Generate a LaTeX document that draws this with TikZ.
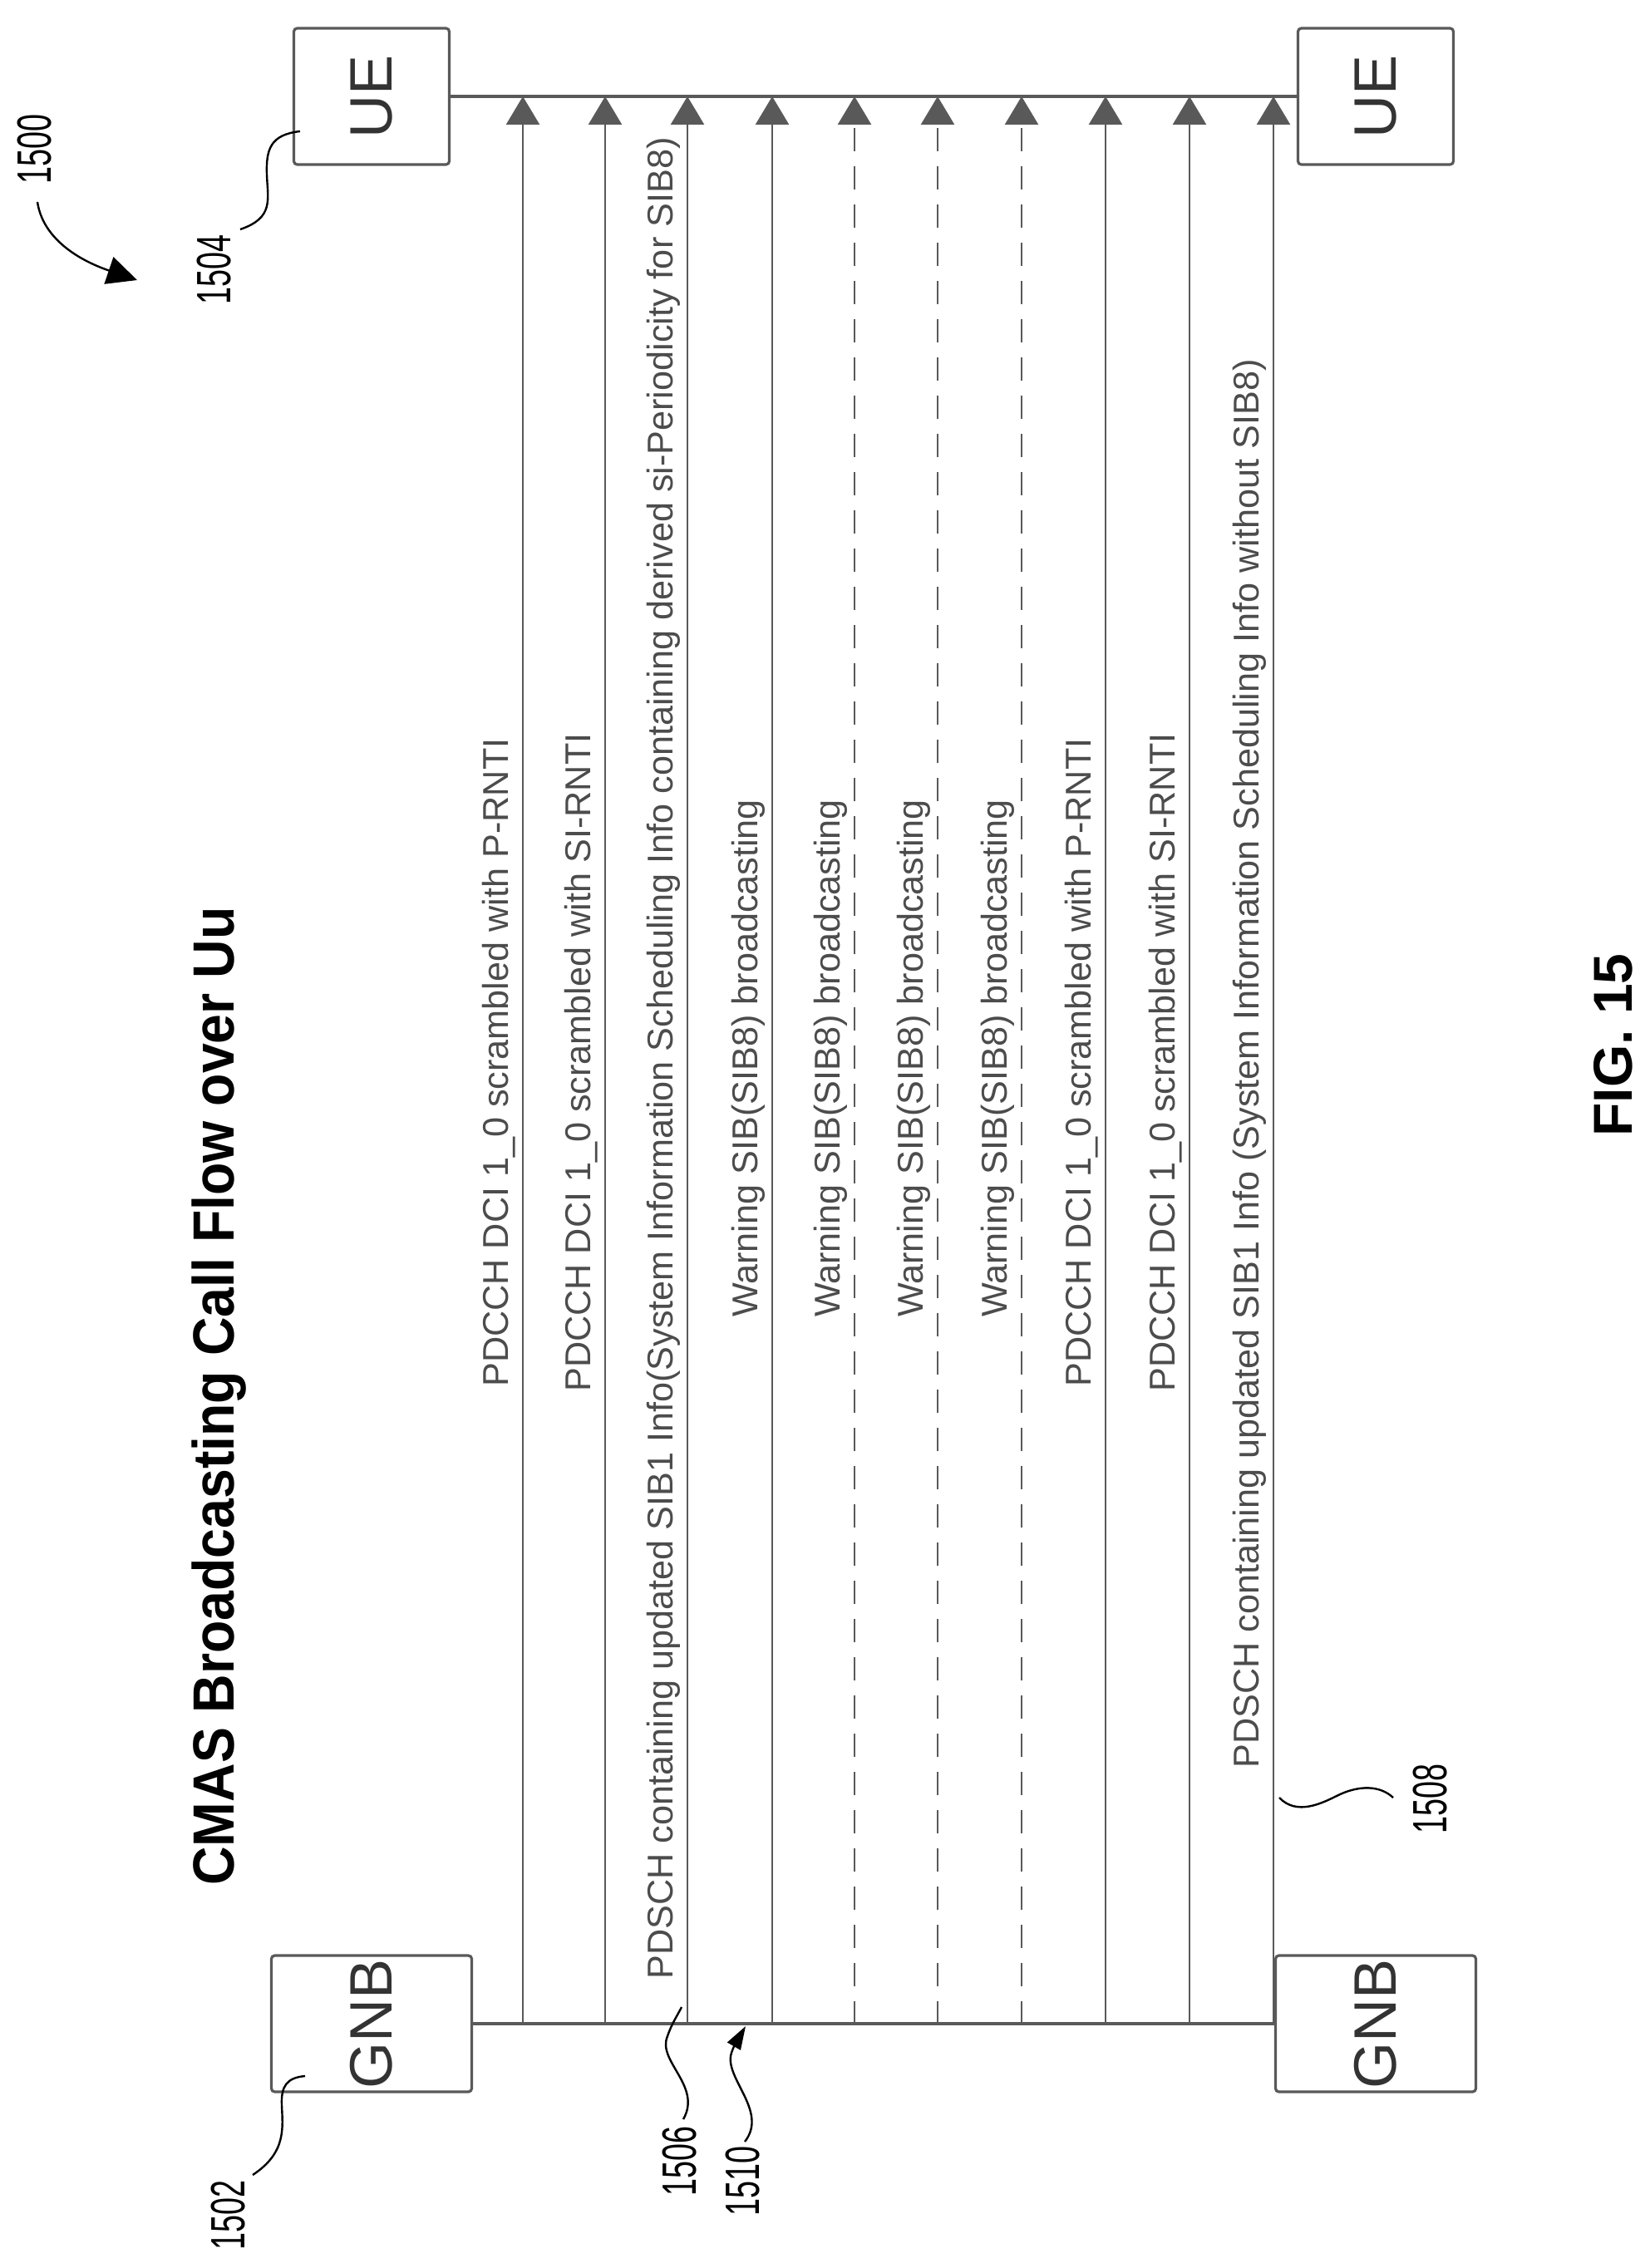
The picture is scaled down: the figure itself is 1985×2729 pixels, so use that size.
\documentclass[tikz,border=0pt]{standalone}
\usepackage{fontspec}
\setmainfont{Liberation Sans}
\usetikzlibrary{arrows.meta}
\definecolor{ln}{gray}{0.35}
\definecolor{tx}{gray}{0.3}
\begin{document}
\begin{tikzpicture}[x=0.5pt,y=-0.5pt,
  ent/.style={draw=ln,line width=1.6pt,rounded corners=2pt,minimum width=82pt,inner sep=0pt,font=\fontsize{36}{36}\selectfont,text=black!80},
  msg/.style={ln,line width=1.3pt,-{Triangle[length=17pt,width=20pt]},shorten >=0pt},
  mtxt/.style={rotate=90,anchor=west,inner sep=0pt,text=tx,font=\fontsize{21.6}{21.6}\selectfont},
  life/.style={ln,line width=1.6pt},
  ref/.style={rotate=90,anchor=west,inner sep=0pt,font=\fontsize{29}{29}\selectfont},
  lead/.style={black,line width=1.2pt}]
\useasboundingbox (0,0) rectangle (1985,2729);
% entities
\node[ent,minimum height=93.5pt,rotate=90] (ueL) at (447,116) {UE};
\node[ent,minimum height=93.5pt,rotate=90] (ueR) at (1655,116) {UE};
\node[ent,minimum height=120.5pt,rotate=90] (gnL) at (447,2435) {GNB};
\node[ent,minimum height=120.5pt,rotate=90] (gnR) at (1655,2435) {GNB};
\draw[life] (ueL.south) -- (ueR.north);
\draw[life] (gnL.south) -- (gnR.north);
% message lines
\foreach \i/\x in {1/629,2/728,3/827,4/929,5/1028,6/1128,7/1229,8/1330,9/1431,10/1532}{
  \coordinate (g\i) at (\x,2436);
  \coordinate (u\i) at (\x,116);
}
\foreach \i in {1,2,3,4,8,9,10}{\draw[msg] (g\i) -- (u\i);}
\foreach \i in {5,6,7}{\draw[msg,dash pattern=on 14pt off 9pt] (g\i) -- (u\i);}
% message texts
\node[mtxt] (t1) at (600,1669) {PDCCH DCI 1\_0 scrambled with P-RNTI};
\node[mtxt] (t2) at (699,1675) {PDCCH DCI 1\_0 scrambled with SI-RNTI};
\node[mtxt] (t3) at (798,2382) {PDSCH containing updated SIB1 Info(System Information Scheduling Info containing derived si-Periodicity for SIB8)};
\node[mtxt] (t4) at (900,1585) {Warning SIB(SIB8) broadcasting};
\node[mtxt] (t5) at (999,1585) {Warning SIB(SIB8) broadcasting};
\node[mtxt] (t6) at (1099,1585) {Warning SIB(SIB8) broadcasting};
\node[mtxt] (t7) at (1200,1585) {Warning SIB(SIB8) broadcasting};
\node[mtxt] (t8) at (1301,1669) {PDCCH DCI 1\_0 scrambled with P-RNTI};
\node[mtxt] (t9) at (1402,1675) {PDCCH DCI 1\_0 scrambled with SI-RNTI};
\node[mtxt] (t10) at (1503,2128) {PDSCH containing updated SIB1 Info (System Information Scheduling Info without SIB8)};
% title and figure label
\node[rotate=90,anchor=west,inner sep=0pt,font=\fontsize{35}{35}\bfseries\selectfont] (title) at (264,2269) {\scalebox{0.92}[1]{CMAS Broadcasting Call Flow over Uu}};
\node[rotate=90,anchor=west,inner sep=0pt,font=\fontsize{33}{33}\bfseries\selectfont] (fig) at (1941,1368) {FIG. 15};
% reference numerals
\node[ref] (r1500) at (42,222) {\scalebox{0.65}[1]{1500}};
\node[ref] (r1504) at (258,367) {\scalebox{0.65}[1]{1504}};
\node[ref] (r1502) at (275,2708) {\scalebox{0.65}[1]{1502}};
\node[ref] (r1506) at (818,2643) {\scalebox{0.65}[1]{1506}};
\node[ref] (r1510) at (894,2667) {\scalebox{0.65}[1]{1510}};
\node[ref] (r1508) at (1721,2207) {\scalebox{0.65}[1]{1508}};
\coordinate (a1500) at (165,337);
\draw[lead,-{Triangle[length=18pt,width=17pt]}] (45,243) .. controls (52,290) and (100,315) .. (a1500);
\coordinate (e1504) at (361,158);
\draw[lead] (289,276) .. controls (330,262) and (322,240) .. (321,210) .. controls (320,180) and (325,162) .. (e1504);
\coordinate (e1502) at (367,2498);
\draw[lead] (304,2617) .. controls (345,2590) and (340,2560) .. (339,2533) .. controls (338,2510) and (345,2500) .. (e1502);
\coordinate (e1506) at (820,2415);
\draw[lead] (822,2550) .. controls (845,2510) and (790,2480) .. (803,2450) .. controls (808,2435) and (815,2425) .. (e1506);
\coordinate (e1510) at (897,2438);
\draw[lead,-{Triangle[length=14pt,width=9pt]}] (896,2577) .. controls (925,2540) and (870,2500) .. (880,2470) .. controls (884,2458) and (890,2450) .. (e1510);
\coordinate (e1508) at (1539,2163);
\draw[lead] (e1508) .. controls (1560,2185) and (1590,2170) .. (1610,2160) .. controls (1635,2148) and (1660,2148) .. (1676,2163);
\end{tikzpicture}
\end{document}
